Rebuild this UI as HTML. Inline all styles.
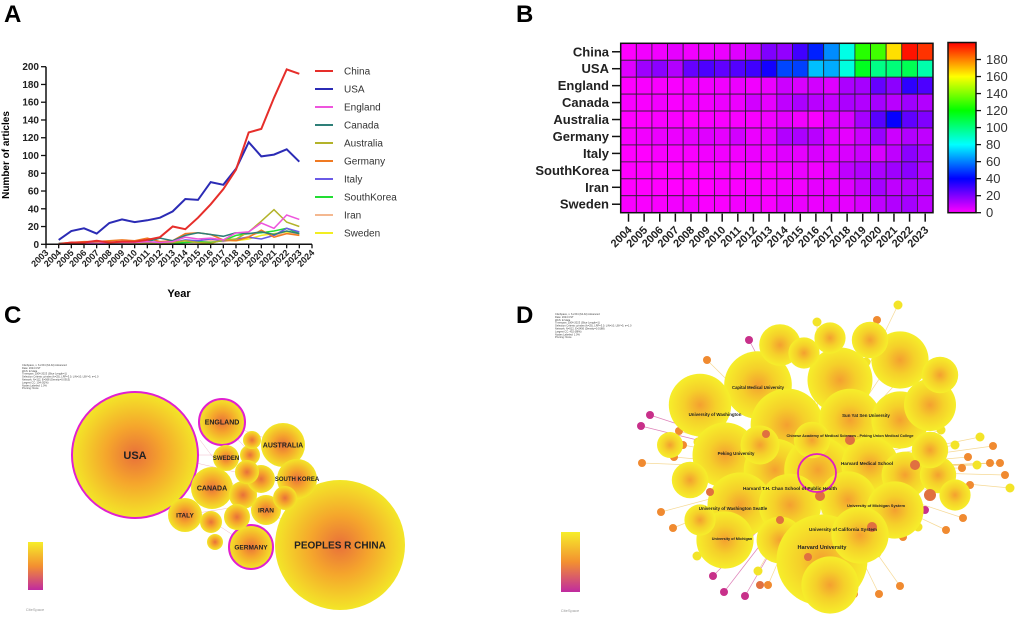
<!DOCTYPE html>
<html><head><meta charset="utf-8"><style>
html,body{margin:0;padding:0;background:#fff;}
svg{display:block;font-family:"Liberation Sans",sans-serif;}
</style></head><body>
<svg id="fig" width="1017" height="621" viewBox="0 0 1017 621">
<defs>
<radialGradient id="ball"><stop offset="0" stop-color="#e8703a"/><stop offset="0.45" stop-color="#f5a52c"/><stop offset="1" stop-color="#f3e628"/></radialGradient>
<radialGradient id="ballY"><stop offset="0" stop-color="#f4a030"/><stop offset="0.5" stop-color="#f5d02a"/><stop offset="1" stop-color="#f6ee2a"/></radialGradient>
<linearGradient id="leg" x1="0" y1="0" x2="0" y2="1"><stop offset="0" stop-color="#f6ee2a"/><stop offset="0.5" stop-color="#f39030"/><stop offset="1" stop-color="#c02aa0"/></linearGradient>
<linearGradient id="cbar" x1="0" y1="1" x2="0" y2="0">
<stop offset="0" stop-color="#ff00ff"/><stop offset="0.2" stop-color="#0000ff"/><stop offset="0.4" stop-color="#00ffff"/><stop offset="0.6" stop-color="#00ff00"/><stop offset="0.8" stop-color="#ffff00"/><stop offset="1" stop-color="#ff0000"/></linearGradient>
</defs>
<g id="pA"></g>
<g id="pB"></g>
<g id="pC"></g>
<g id="pD"></g>
</svg>
<script>
const years = [2004,2005,2006,2007,2008,2009,2010,2011,2012,2013,2014,2015,2016,2017,2018,2019,2020,2021,2022,2023];
const countries = ["China","USA","England","Canada","Australia","Germany","Italy","SouthKorea","Iran","Sweden"];
const chinaVals = [0,2,2,4,2,3,3,5,8,20,17,30,45,62,84,126,130,165,197,192];
const usaVals = [5,15,18,12,24,28,25,27,30,37,51,50,70,67,85,115,99,101,107,93];
const englandVals = [0,1,1,1,2,2,2,3,2,3,8,6,7,5,13,14,24,18,33,28];
const canadaVals = [1,1,2,1,2,2,3,3,7,4,10,13,11,9,13,12,14,11,15,12];
const australiaVals = [0,0,1,1,0,1,1,1,1,2,4,2,1,5,6,14,26,39,25,20];
const germanyVals = [1,2,3,3,4,5,4,7,3,4,12,13,11,5,4,8,16,8,12,10];
const italyVals = [0,0,1,1,1,2,2,2,3,2,5,4,6,4,6,8,6,10,18,14];
const southKoreaVals = [0,0,0,0,0,1,1,1,1,1,2,3,2,4,10,12,13,15,18,12];
const iranVals = [0,0,0,0,0,0,1,1,1,1,2,2,4,3,5,9,14,10,12,12];
const swedenVals = [1,1,1,2,2,1,1,2,2,1,4,3,3,4,4,6,10,12,14,10];
const yTicks = [0,20,40,60,80,100,120,140,160,180,200];
const xTickYears = [2003,2004,2005,2006,2007,2008,2009,2010,2011,2012,2013,2014,2015,2016,2017,2018,2019,2020,2021,2022,2023,2024];
const cbarTicks = [0,20,40,60,80,100,120,140,160,180];
const seriesColors = ["#e62e2a","#2b2bb5","#ee55dd","#2e7f78","#b3b32a","#f07a22","#6a5ae6","#22dd33","#f4b890","#f2ee22"];
const allSeries = [chinaVals,usaVals,englandVals,canadaVals,australiaVals,germanyVals,italyVals,southKoreaVals,iranVals,swedenVals];

const NS="http://www.w3.org/2000/svg";
function mk(tag,attrs,parent,txt){const e=document.createElementNS(NS,tag);for(const k in attrs)e.setAttribute(k,attrs[k]);if(txt!==undefined)e.textContent=txt;parent.appendChild(e);return e;}

// ---------- Panel A ----------
const pA=document.getElementById('pA');
const ax=y=>46+(y-2003)*(266/21);
const ay=v=>244.3-v*(177.6/200);
let t=mk('text',{x:4,y:22,'font-size':24,'font-weight':'bold'},pA,'A');


const order=[9,8,7,6,5,4,3,2,1,0];
order.forEach(i=>{
  const d=allSeries[i].map((v,j)=>(j?'L':'M')+ax(years[j]).toFixed(1)+' '+ay(v).toFixed(1)).join(' ');
  const p=mk('path',{d:d,fill:'none',stroke:seriesColors[i],'stroke-width':i<2?2:1.5},pA);
  
  
});
let axl=mk('path',{d:`M46 ${ay(200)} L46 ${ay(0)} L${ax(2024)} ${ay(0)}`,stroke:'#111','stroke-width':1.5,fill:'none'},pA);


yTicks.forEach(v=>{
  mk('line',{x1:41,x2:46,y1:ay(v),y2:ay(v),stroke:'#111','stroke-width':1.3},pA);
  const tt=mk('text',{x:39,y:ay(v)+3.5,'font-size':10,'font-weight':'bold','text-anchor':'end',fill:'#222'},pA,v);
  
  
});
xTickYears.forEach(y=>{
  mk('line',{x1:ax(y),x2:ax(y),y1:ay(0),y2:ay(0)+4,stroke:'#111','stroke-width':1.3},pA);
  const tt=mk('text',{x:ax(y)+3,y:ay(0)+9,'font-size':9,'font-weight':'bold','text-anchor':'end',fill:'#222',transform:`rotate(-45 ${ax(y)+3} ${ay(0)+9})`},pA,y);
  
  
});
t=mk('text',{x:179,y:297,'font-size':11,'font-weight':'bold','text-anchor':'middle'},pA,'Year');


t=mk('text',{x:0,y:0,'font-size':10,'font-weight':'bold','text-anchor':'middle',transform:'translate(9 155) rotate(-90)'},pA,'Number of articles');


countries.forEach((c,i)=>{
  const g=mk('g',{},pA);
  
  
  const yy=71+i*18;
  mk('line',{x1:315,x2:333,y1:yy,y2:yy,stroke:seriesColors[i],'stroke-width':2},g);
  mk('text',{x:344,y:yy+3.5,'font-size':10,fill:'#333'},g,c);
});

// ---------- Panel B ----------
const pB=document.getElementById('pB');
t=mk('text',{x:516,y:22,'font-size':24,'font-weight':'bold'},pB,'B');


const hx0=620.7,hx1=933,hy0=43.3,hy1=212.7;
const cw=(hx1-hx0)/years.length, ch=(hy1-hy0)/countries.length;
function cmap(v){const f=Math.max(0,Math.min(1,v/200));return `hsl(${300*(1-f)},100%,50%)`;}
countries.forEach((c,i)=>{
  allSeries[i].forEach((v,j)=>{
    const r=mk('rect',{x:hx0+j*cw,y:hy0+i*ch,width:cw,height:ch,fill:cmap(v),stroke:'#222','stroke-width':0.8},pB);
    
    
  });
  const yy=hy0+(i+0.5)*ch;
  mk('line',{x1:612,x2:620.7,y1:yy,y2:yy,stroke:'#111','stroke-width':1.5},pB);
  const tt=mk('text',{x:609,y:yy+4.5,'font-size':13,'font-weight':'bold','text-anchor':'end',fill:'#222'},pB,c);
  
  
});
mk('rect',{x:hx0,y:hy0,width:hx1-hx0,height:hy1-hy0,fill:'none',stroke:'#111','stroke-width':1.5},pB);
years.forEach((y,j)=>{
  const xx=hx0+(j+0.5)*cw;
  mk('line',{x1:xx,x2:xx,y1:hy1+1,y2:hy1+9,stroke:'#111','stroke-width':1.5},pB);
  const tt=mk('text',{x:xx+4,y:hy1+18,'font-size':11,'font-weight':'bold','text-anchor':'end',fill:'#222',transform:`rotate(-45 ${xx+4} ${hy1+18})`},pB,y);
  
  
});
const cb=mk('rect',{x:948,y:42.5,width:28,height:170.2,fill:'url(#cbar)',stroke:'#111','stroke-width':1.5},pB);


const cy=v=>212.7-v*(170.2/200);
cbarTicks.forEach(v=>{
  mk('line',{x1:976,x2:981,y1:cy(v),y2:cy(v),stroke:'#111','stroke-width':1.3},pB);
  const tt=mk('text',{x:986,y:cy(v)+4.5,'font-size':13,fill:'#333'},pB,v);
  
  
});

// ---------- Panel C ----------
const pC=document.getElementById('pC');
t=mk('text',{x:4,y:323,'font-size':24,'font-weight':'bold'},pC,'C');


const meta=mk('g',{'font-size':2.6,fill:'#444'},pC);


["CiteSpace, v. 6.2.R4 (64-bit) Advanced","Date: 2024 CST","WoS: E:\\data","Timespan: 2004-2023 (Slice Length=1)","Selection Criteria: g-index (k=25), LRF=3.0, L/N=10, LBY=5, e=1.0","Network: N=112, E=568 (Density=0.0913)","Largest CC: 104 (92%)","Nodes Labeled: 1.0%","Pruning: None"].forEach((s,i)=>mk('text',{x:22,y:366+i*2.9},meta,s));
[[135,455,215,455],[140,450,270,480],[222,422,283,445],[212,488,340,545],[251,547,135,470],[185,515,280,500],[222,422,252,455],[200,440,260,520]].forEach(l=>mk('line',{x1:l[0],y1:l[1],x2:l[2],y2:l[3],stroke:'#e06a8a','stroke-width':0.4,opacity:0.6},pC));
const cNodes=[
 [135,455,63,'USA',true,11],[340,545,65,'PEOPLES R CHINA',false,10],[222,422,23,'ENGLAND',true,7],
 [283,445,22,'AUSTRALIA',false,7],[297,479,20,'SOUTH KOREA',false,6],[212,488,21,'CANADA',false,7],
 [185,515,17,'ITALY',false,6.5],[266,510,15,'IRAN',false,6.5],[251,547,22,'GERMANY',true,6.5],
 [226,458,13,'SWEDEN',false,6],[250,455,10,'',false,6],[243,495,14,'',false,6],[261,479,14,'',false,6],
 [285,498,12,'',false,6],[237,517,13,'',false,6],[211,522,11,'',false,6],[215,542,8,'',false,6],
 [247,472,12,'',false,6],[252,440,9,'',false,6]];
cNodes.forEach(n=>{
  const g=mk('g',{},pC);
  
  
  mk('circle',{cx:n[0],cy:n[1],r:n[2],fill:'url(#ball)',stroke:n[4]?'#e020d0':'none','stroke-width':n[4]?2:0},g);
  if(n[3]) mk('text',{x:n[0],y:n[1]+n[5]*0.35,'font-size':n[5],'font-weight':'bold','text-anchor':'middle',fill:'#222'},g,n[3]);
});
let lg=mk('rect',{x:28,y:542,width:15,height:48,fill:'url(#leg)'},pC);


let lo=mk('text',{x:35,y:611,'font-size':4,'text-anchor':'middle',fill:'#999'},pC,'CiteSpace');



// ---------- Panel D ----------
const pD=document.getElementById('pD');
t=mk('text',{x:516,y:323,'font-size':24,'font-weight':'bold'},pD,'D');


const meta2=mk('g',{'font-size':2.6,fill:'#444'},pD);


["CiteSpace, v. 6.2.R4 (64-bit) Advanced","Date: 2024 CST","WoS: E:\\data","Timespan: 2004-2023 (Slice Length=1)","Selection Criteria: g-index (k=25), LRF=3.0, L/N=10, LBY=5, e=1.0","Network: N=512, E=2456 (Density=0.0188)","Largest CC: 452 (88%)","Nodes Labeled: 1.0%","Pruning: None"].forEach((s,i)=>mk('text',{x:555,y:315+i*2.9},meta2,s));
const sats=[[749,340,'m'],[707,360,'o'],[745,360,'y'],[813,362,'y'],[817,322,'y'],[830,350,'o'],[902,345,'o'],[898,305,'y'],[877,320,'o'],[866,362,'y'],[764,414,'o'],[711,430,'m'],[650,415,'m'],[641,426,'m'],[679,431,'o'],[683,445,'o'],[698,442,'y'],[642,463,'o'],[674,457,'o'],[696,474,'o'],[683,482,'o'],[661,512,'o'],[673,528,'o'],[701,520,'y'],[697,556,'y'],[713,576,'m'],[724,592,'m'],[745,596,'m'],[758,571,'y'],[768,585,'o'],[828,575,'o'],[833,592,'o'],[854,594,'o'],[879,594,'o'],[900,586,'o'],[877,553,'y'],[903,537,'o'],[918,527,'y'],[946,530,'o'],[963,518,'o'],[962,468,'o'],[977,465,'y'],[990,463,'o'],[968,457,'o'],[980,437,'y'],[993,446,'o'],[955,445,'y'],[913,441,'m'],[929,441,'y'],[941,430,'y'],[900,414,'y'],[902,398,'y'],[931,400,'y'],[941,414,'y'],[901,378,'o'],[865,380,'m'],[906,460,'o'],[941,480,'o'],[958,495,'o'],[970,485,'o'],[925,510,'m'],[872,490,'m'],[866,476,'m'],[1000,463,'o'],[1005,475,'o'],[1010,488,'y']];
const satCol={m:'#c8308a',o:'#f08a30',y:'#f3e428'};
sats.forEach(s=>{
  mk('line',{x1:818,y1:470,x2:s[0],y2:s[1],stroke:s[2]==='m'?'#c8308a':'#f0c050','stroke-width':0.7,opacity:0.6},pD);
});
sats.forEach((s,i)=>{
  const c=mk('circle',{cx:s[0],cy:s[1],r:s[2]==='y'?4.5:4,fill:satCol[s[2]]},pD);
  
  
});
const big=[[758,385,26],[840,380,25],[900,360,22],[830,338,12],[780,345,16],[870,340,14],[700,405,24],[787,425,28],[850,420,24],[900,420,22],[930,405,20],[725,455,25],[775,470,24],[818,470,26],[870,465,22],[905,475,18],[740,505,25],[790,505,24],[848,500,22],[895,510,22],[725,540,22],[780,540,18],[822,560,35],[860,535,22],[830,585,22],[938,475,14],[955,495,12],[690,480,14],[760,445,15],[812,440,14],[804,353,12],[940,375,14],[930,450,14],[700,520,12],[670,445,10]];
big.forEach(b=>{
  const c=mk('circle',{cx:b[0],cy:b[1],r:b[2]*1.3,fill:'url(#ballY)'},pD);
  
  
});
[[820,496,5],[850,440,5],[710,492,4],[872,527,5],[766,434,4],[808,557,4],[780,520,4],[930,495,6],[915,465,5],[760,585,4]].forEach(b=>mk('circle',{cx:b[0],cy:b[1],r:b[2],fill:'#e07040'},pD));
let ring=mk('circle',{cx:817,cy:473,r:19,fill:'none',stroke:'#e020c0','stroke-width':1.8},pD);


const dLabels=[[758,389,'Capital Medical University',4.2],[715,416,'University of Washington',4.4],[866,417,'Sun Yat Sen University',4.4],[850,437,'Chinese Academy of Medical Sciences - Peking Union Medical College',3.8],[736,455,'Peking University',4.4],[867,465,'Harvard Medical School',4.6],[790,490,'Harvard T.H. Chan School of Public Health',4.7],[733,510,'University of Washington Seattle',4.4],[876,507,'University of Michigan System',4],[843,531,'University of California System',4.6],[732,540,'University of Michigan',3.8],[822,549,'Harvard University',5.5]];
dLabels.forEach(l=>{
  const tt=mk('text',{x:l[0],y:l[1],'font-size':l[3],'font-weight':'bold','text-anchor':'middle',fill:'#222'},pD,l[2]);
  
  
});
lg=mk('rect',{x:561,y:532,width:19,height:60,fill:'url(#leg)'},pD);


lo=mk('text',{x:570,y:612,'font-size':4,'text-anchor':'middle',fill:'#999'},pD,'CiteSpace');


</script>
</body></html>
